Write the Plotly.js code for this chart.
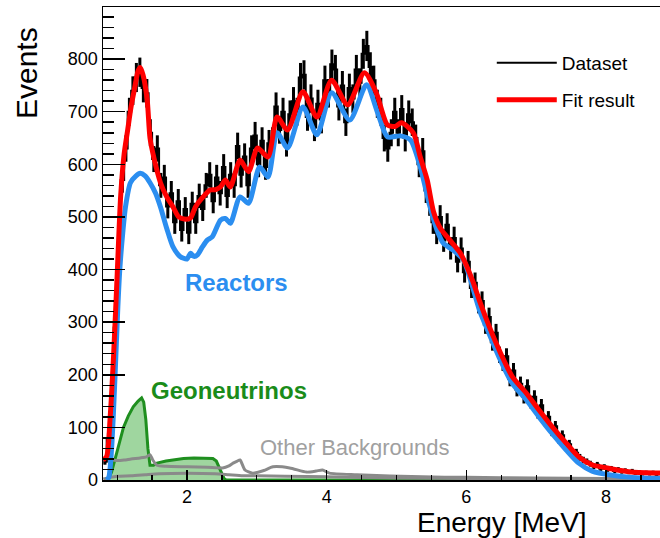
<!DOCTYPE html>
<html>
<head>
<meta charset="utf-8">
<script src="https://cdn.plot.ly/plotly-3.0.1.min.js"></script>
<style>html,body{margin:0;padding:0;background:#fff;}#chart{width:660px;height:538px;}</style>
</head>
<body>
<div id="chart"></div>
<script>
// ---- Dataset: histogram, 0.05 MeV bins starting at 0.80 MeV ----
const binStart = 0.80;
const binWidth = 0.05;
const dataCounts = [
  35, 80, 160, 290, 440, 570, 630, 700, 740, 765,
  775, 745, 735, 660, 610, 630, 560, 575, 520, 545,
  490, 530, 475, 515, 470, 525, 490, 540, 515, 560,
  580, 530, 575, 545, 595, 540, 580, 560, 635, 580,
  615, 560, 630, 655, 600, 645, 595, 640, 645, 710,
  665, 700, 640, 695, 720, 700, 765, 770, 690, 725,
  670, 715, 685, 760, 735, 790, 780, 710, 750, 680,
  745, 725, 780, 755, 810, 825, 785, 760, 715, 700,
  650, 630, 660, 700, 660, 705, 650, 695, 680, 650,
  600, 625, 550, 525, 490, 470, 500, 455, 485, 440,
  460, 415, 440, 395, 415, 365, 375, 335, 340, 295,
  310, 262, 280, 238, 222, 235, 192, 208, 172, 183,
  158, 178, 148, 158, 128, 142, 113, 120, 93, 102,
  78, 85, 66, 68, 50, 52, 43, 38, 35, 31,
  26, 29, 22, 25, 20, 22, 17, 20, 16, 18,
  15, 17, 13, 15, 12, 14, 12, 14, 11, 13
];

// ---- Fit result (red) ----
const fitE = [0.80,0.85,0.90,0.95,1.00,1.05,1.10,1.15,1.20,1.25,1.30,1.33,1.37,1.43,1.47,1.53,1.62,1.71,1.80,1.88,1.96,2.05,2.12,2.23,2.33,2.41,2.48,2.55,2.62,2.76,2.88,3.01,3.16,3.29,3.44,3.66,3.86,4.07,4.30,4.54,4.71,4.87,4.98,5.07,5.24,5.34,5.44,5.53,5.63,5.77,5.91,6.01,6.10,6.19,6.33,6.47,6.66,6.86,7.04,7.23,7.43,7.61,7.80,8.09,8.37,8.80];
const fitV = [38,45,120,240,390,540,620,665,710,745,778,784,770,722,650,610,565,538,519,500,496,498,519,538,551,552,557,570,557,608,586,631,614,690,665,738,690,760,713,774,736,675,672,679,660,614,570,510,478,455,432,405,375,340,291,247,196,165,133,101,70,44,29,21,15,13];

// ---- Reactors (blue) ----
const reacE = [0.85,0.88,0.92,0.97,1.01,1.04,1.08,1.12,1.19,1.27,1.33,1.40,1.47,1.55,1.62,1.71,1.80,1.90,2.00,2.05,2.10,2.15,2.22,2.29,2.36,2.48,2.55,2.62,2.76,2.88,3.04,3.16,3.29,3.44,3.66,3.86,4.07,4.33,4.57,4.73,4.87,5.05,5.20,5.34,5.48,5.58,5.67,5.81,5.96,6.06,6.19,6.33,6.47,6.66,6.86,7.04,7.23,7.43,7.61,7.80,8.09,8.37,8.80];
const reacV = [0,5,60,200,330,405,470,520,565,578,583,578,565,545,519,478,443,425,420,431,425,428,443,456,462,494,497,488,538,526,595,576,660,631,709,656,736,684,751,698,652,654,646,595,519,475,450,437,418,380,322,277,233,183,152,120,88,57,32,17,9,5,3];

// ---- Geoneutrinos (green) ----
const geoE = [0.87,0.92,1.00,1.09,1.16,1.23,1.30,1.35,1.38,1.41,1.44,1.47,1.52,1.57,1.70,1.80,1.95,2.10,2.25,2.37,2.42,2.46,2.50,2.53,2.56,8.80];
const geoV = [0,15,55,100,122,139,150,156,148,115,60,28,28,32,36,38,41,42,42,41,36,25,12,3,0,0];

// ---- Other backgrounds (grey) ----
const bkg1E = [0.80,0.90,1.00,1.10,1.20,1.33,1.42,1.47,1.51,1.57,1.70,2.00,2.30,2.51,2.60,2.66,2.72,2.76,2.83,2.94,3.10,3.23,3.47,3.71,3.85,3.94,4.04,4.43,5.37,6.00,7.00,8.00,8.80];
const bkg1V = [32,38,37,38,40,42,44,48,38,28,26,25,24,23,27,32,36,38,19,13,18,25,23,15,17,19,13,10,6,5,4,3,3];
const bkg2E = [0.80,0.90,1.00,1.20,1.40,1.60,2.00,2.40,2.60,2.80,3.00,3.40,4.00,5.00,6.00,8.80];
const bkg2V = [2,5,7,8,10,12,13,12,10,8,8,7,6,4,3,2];

// ---- Tick values ----
const xTickVals = [2, 4, 6, 8];
const yTickVals = [0, 100, 200, 300, 400, 500, 600, 700, 800];

const dataE = dataCounts.map((_, i) => +(binStart + binWidth * (i + 0.5)).toFixed(3));

const FONT = "'Liberation Sans', Arial, Helvetica, sans-serif";

const traces = [
  {x: geoE, y: geoV, type: 'scatter', mode: 'lines', fill: 'tozeroy',
   fillcolor: 'rgba(80,180,80,0.55)', line: {color: '#1f8f1f', width: 3},
   showlegend: false, hoverinfo: 'skip'},
  {x: bkg2E, y: bkg2V, type: 'scatter', mode: 'lines',
   line: {color: '#8a8a8a', width: 3, shape: 'spline', smoothing: 0.6}, showlegend: false},
  {x: bkg1E, y: bkg1V, type: 'scatter', mode: 'lines',
   line: {color: '#8a8a8a', width: 3, shape: 'spline', smoothing: 0.6}, showlegend: false},
  {x: dataE, y: dataCounts, type: 'scatter', mode: 'lines', name: 'Dataset',
   line: {color: '#000', width: 2, shape: 'hvh'},
   error_y: {type: 'sqrt', visible: true, color: '#000', thickness: 3, width: 0},
   legend: 'legend'},
  {x: reacE, y: reacV, type: 'scatter', mode: 'lines',
   line: {color: '#2b8ef0', width: 5, shape: 'spline', smoothing: 0.7}, showlegend: false},
  {x: fitE, y: fitV, type: 'scatter', mode: 'lines', name: 'Fit result',
   line: {color: '#ff0000', width: 5, shape: 'spline', smoothing: 0.7},
   legend: 'legend2'}
];

const layout = {
  width: 660, height: 538,
  margin: {l: 103, r: 0, t: 7, b: 58, pad: 0},
  paper_bgcolor: '#fff', plot_bgcolor: '#fff',
  font: {family: FONT, color: '#000', size: 18},
  showlegend: true,
  xaxis: {
    range: [0.797, 8.773], showgrid: false, zeroline: false,
    showline: true, linecolor: '#000', linewidth: 1.5, mirror: true,
    tickmode: 'array', tickvals: xTickVals, ticktext: xTickVals.map(String),
    ticks: 'inside', ticklen: 10, tickwidth: 1.5, tickcolor: '#000',
    tickfont: {family: FONT, size: 18, color: '#000'},
    minor: {ticks: 'inside', ticklen: 5, tickwidth: 1.2, tickcolor: '#000', dtick: 0.5, tick0: 0, showgrid: false}
  },
  yaxis: {
    range: [0, 899], showgrid: false, zeroline: false,
    showline: true, linecolor: '#000', linewidth: 1.5, mirror: false,
    tickmode: 'array', tickvals: yTickVals, ticktext: yTickVals.map(String),
    ticks: 'inside', ticklen: 22, tickwidth: 1.5, tickcolor: '#000',
    tickfont: {family: FONT, size: 18, color: '#000'},
    minor: {ticks: 'inside', ticklen: 11, tickwidth: 1.5, tickcolor: '#000', dtick: 20, tick0: 0, showgrid: false}
  },
  legend: {x: 0.698, y: 0.8816, xanchor: 'left', yanchor: 'middle', bgcolor: 'rgba(0,0,0,0)',
    font: {family: FONT, size: 19, color: '#000'}, itemwidth: 60},
  legend2: {x: 0.698, y: 0.8034, xanchor: 'left', yanchor: 'middle', bgcolor: 'rgba(0,0,0,0)',
    font: {family: FONT, size: 19, color: '#000'}, itemwidth: 60},
  annotations: [
    {text: 'Events', xref: 'paper', yref: 'paper', x: -0.1364, y: 0.8605, textangle: -90,
     showarrow: false, xanchor: 'center', yanchor: 'middle', font: {family: FONT, size: 30, color: '#000'}},
    {text: 'Energy [MeV]', xref: 'paper', yref: 'paper', x: 0.716, y: -0.0888,
     showarrow: false, xanchor: 'center', yanchor: 'middle', font: {family: FONT, size: 28, color: '#000'}},
    {text: '<b>Reactors</b>', xref: 'x', yref: 'y', x: 2.71, y: 376, showarrow: false,
     xanchor: 'center', yanchor: 'middle', font: {family: FONT, size: 24, color: '#2b8ef0'}},
    {text: '<b>Geoneutrinos</b>', xref: 'x', yref: 'y', x: 2.6, y: 171, showarrow: false,
     xanchor: 'center', yanchor: 'middle', font: {family: FONT, size: 24, color: '#1a8c1a'}},
    {text: 'Other Backgrounds', xref: 'x', yref: 'y', x: 4.41, y: 61, showarrow: false,
     xanchor: 'center', yanchor: 'middle', font: {family: FONT, size: 22, color: '#a0a0a0'}}
  ]
};

Plotly.newPlot('chart', traces, layout, {staticPlot: true, displayModeBar: false});
</script>
</body>
</html>
